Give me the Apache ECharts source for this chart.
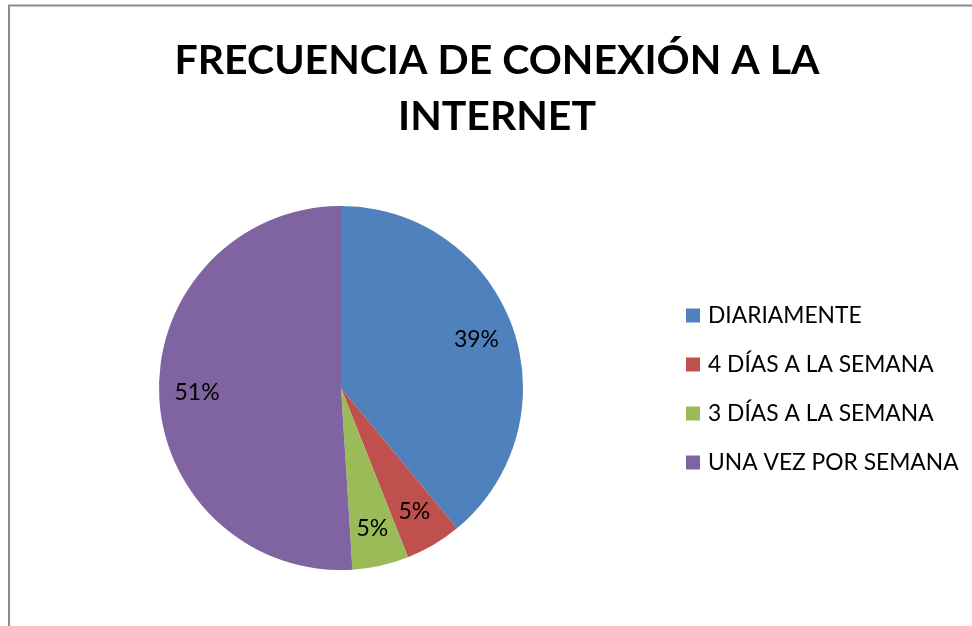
<!DOCTYPE html>
<html>
<head>
<meta charset="utf-8">
<script src="https://cdn.jsdelivr.net/npm/echarts@6/dist/echarts.min.js"></script>
<style>
  html, body { margin: 0; padding: 0; background: #fff; }
  #chart { width: 972px; height: 626px; }
</style>
</head>
<body>
<div id="chart"></div>
<script>
// datos del grafico
var categories = ['DIARIAMENTE', '4 DÍAS A LA SEMANA', '3 DÍAS A LA SEMANA', 'UNA VEZ POR SEMANA']
var percents = [39, 5, 5, 51]
var colors = ['#4F81BD', '#C0504D', '#9BBB59', '#8064A2']

var fontFamily = 'Lato, "Open Sans", sans-serif'

var pieData = categories.map(function (name, i) {
  return { name: name, value: percents[i] }
})

var chart = echarts.init(document.getElementById('chart'))

var option = {
  backgroundColor: '#fff',
  color: colors,
  animation: false,
  title: {
    text: 'FRECUENCIA DE CONEXIÓN A LA\nINTERNET',
    left: 492,
    top: 28,
    textAlign: 'center',
    textStyle: {
      color: '#000',
      fontFamily: fontFamily,
      fontWeight: 'bold',
      fontSize: 41,
      lineHeight: 56
    }
  },
  legend: {
    orient: 'vertical',
    left: 681,
    top: 299,
    itemWidth: 14,
    itemHeight: 14,
    itemGap: 26,
    icon: 'rect',
    data: categories,
    textStyle: {
      color: '#000',
      fontFamily: fontFamily,
      fontSize: 22.8,
      padding: [0, 0, 0, 3]
    }
  },
  graphic: [
    {
      type: 'rect',
      silent: true,
      shape: { x: 9, y: 5.5, width: 1000, height: 700 },
      style: { fill: 'none', stroke: '#8c8c8c', lineWidth: 2 }
    }
  ],
  series: [
    {
      name: 'frecuencia',
      type: 'pie',
      center: [341, 388],
      radius: [0, 182],
      startAngle: 90,
      clockwise: true,
      avoidLabelOverlap: false,
      label: { show: false },
      labelLine: { show: false },
      emphasis: { disabled: true },
      data: pieData
    },
    {
      // anillo transparente solo para colocar las etiquetas mas afuera
      name: 'etiquetas',
      type: 'pie',
      center: [341, 388],
      radius: [100, 182],
      startAngle: 90,
      clockwise: true,
      silent: true,
      avoidLabelOverlap: false,
      itemStyle: { color: 'rgba(0,0,0,0)' },
      label: {
        show: true,
        position: 'inside',
        color: '#000',
        fontFamily: fontFamily,
        fontSize: 23,
        formatter: function (p) {
          return p.value + '%'
        }
      },
      labelLine: { show: false },
      emphasis: { disabled: true },
      data: pieData
    }
  ]
}

chart.setOption(option)
</script>
</body>
</html>
